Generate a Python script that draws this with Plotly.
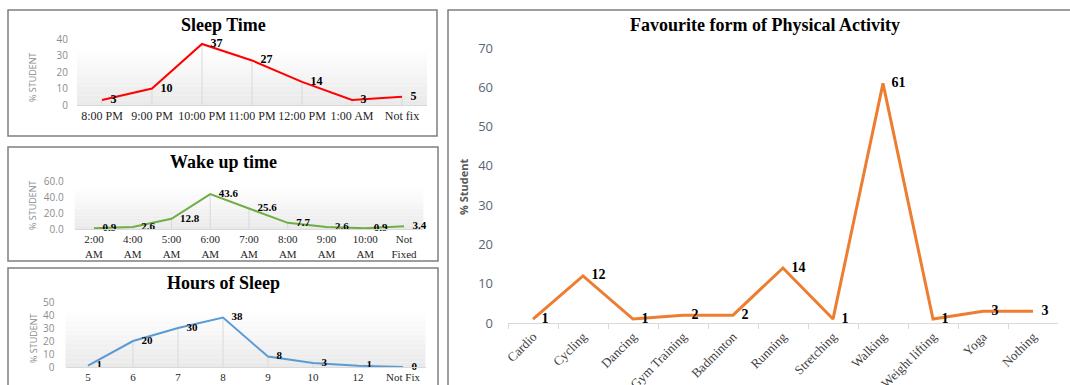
import plotly.graph_objects as go

# ---------------- data ----------------
sleep_cats = ["8:00 PM", "9:00 PM", "10:00 PM", "11:00 PM", "12:00 PM", "1:00 AM", "Not fix"]
sleep_vals = [3, 10, 37, 27, 14, 3, 5]

wake_cats = ["2:00<br>AM", "4:00<br>AM", "5:00<br>AM", "6:00<br>AM", "7:00<br>AM",
             "8:00<br>AM", "9:00<br>AM", "10:00<br>AM", "Not<br>Fixed"]
wake_vals = [0.9, 2.6, 12.8, 43.6, 25.6, 7.7, 2.6, 0.9, 3.4]

hours_cats = ["5", "6", "7", "8", "9", "10", "12", "Not Fix"]
hours_vals = [1, 20, 30, 38, 8, 3, 1, 0]

act_cats = ["Cardio", "Cycling", "Dancing", "Gym Training", "Badminton", "Running",
            "Stretching", "Walking", "Weight lifting", "Yoga", "Nothing"]
act_vals = [1, 12, 1, 2, 2, 14, 1, 61, 1, 3, 3]

# ---------------- helpers ----------------
W, H = 1070, 385


def px(x):
    return x / W


def py(y):
    return 1 - y / H


SERIF = "Liberation Serif, Times New Roman, serif"
SANS = "Open Sans, Liberation Sans, sans-serif"

fig = go.Figure()


def drops(cats, vals, xa, ya):
    fig.add_trace(go.Scatter(
        x=cats, y=vals, mode="markers", xaxis=xa, yaxis=ya,
        marker=dict(size=1, opacity=0),
        error_y=dict(type="data", symmetric=False, array=[0] * len(vals),
                     arrayminus=vals, width=0, thickness=1, color="#d9d9d9"),
        hoverinfo="skip", showlegend=False))


def line(cats, vals, texts, xa, ya, color, width, fsize):
    fig.add_trace(go.Scatter(
        x=cats, y=vals, mode="lines+markers+text", xaxis=xa, yaxis=ya,
        line=dict(color=color, width=width),
        marker=dict(size=12, opacity=0),
        text=texts, textposition="middle right",
        textfont=dict(family=SERIF, size=fsize, color="#000000", weight="bold"),
        cliponaxis=False, showlegend=False))


drops(sleep_cats, sleep_vals, "x", "y")
line(sleep_cats, sleep_vals, [str(v) for v in sleep_vals], "x", "y", "#FF0000", 2, 12)

drops(wake_cats, wake_vals, "x2", "y2")
line(wake_cats, wake_vals, [f"{v:.1f}" for v in wake_vals], "x2", "y2", "#70AD47", 2, 11)

drops(hours_cats, hours_vals, "x3", "y3")
line(hours_cats, hours_vals, [str(v) for v in hours_vals], "x3", "y3", "#5B9BD5", 2, 11)

line(act_cats, act_vals, [str(v) for v in act_vals], "x4", "y4", "#ED7D31", 3, 14)

small_tick_font = dict(family=SANS, size=10, color="#8c8c8c")
xcat_font = dict(family=SERIF, size=12, color="#262626")


def xax(dom, font, n, **kw):
    d = dict(domain=dom, type="category", range=[-0.5, n - 0.5], autorange=False,
             showgrid=False, zeroline=False,
             showline=True, linecolor="#d9d9d9", linewidth=1, ticks="",
             tickfont=font, fixedrange=True, automargin=False)
    d.update(kw)
    return d


def yax(dom, rng, dtick, anchor, standoff, font, **kw):
    d = dict(domain=dom, range=rng, autorange=False, dtick=dtick, tick0=0, showgrid=False,
             zeroline=False, showline=False, ticks="", anchor=anchor,
             ticklabelstandoff=standoff, tickfont=font, fixedrange=True,
             automargin=False)
    d.update(kw)
    return d


fig.update_layout(
    width=W, height=H,
    margin=dict(l=0, r=0, t=0, b=0, pad=0, autoexpand=False),
    paper_bgcolor="white", plot_bgcolor="white",
    showlegend=False,
    xaxis=xax([px(77), px(427)], xcat_font, len(sleep_cats), anchor="y", tickangle=0),
    yaxis=yax([py(105), py(39)], [0, 40], 10, "x", 8, small_tick_font),
    xaxis2=xax([px(74.6), px(423.4)], dict(family=SERIF, size=11, color="#262626"),
               len(wake_cats), anchor="y2", tickangle=0),
    yaxis2=yax([py(229), py(181)], [0, 60], 20, "x2", 10, small_tick_font, tickformat=".1f"),
    xaxis3=xax([px(65.5), px(425.5)], dict(family=SERIF, size=11, color="#262626"),
               len(hours_cats), anchor="y3", tickangle=0),
    yaxis3=yax([py(367), py(302)], [0, 50], 10, "x3", 10, small_tick_font),
    xaxis4=xax([px(508), px(1058)], dict(family=SERIF, size=13, color="#404040"),
               len(act_cats), anchor="y4", tickangle=-45, ticks="outside",
               tickson="boundaries", ticklen=5, tickcolor="#d9d9d9"),
    yaxis4=yax([py(323), py(48)], [0, 70], 10, "x4", 14,
               dict(family=SANS, size=13, color="#5b6573")),
)

# ---------------- gradient plot-area fills ----------------
N = 12
for xa, ya in [("x", "y"), ("x2", "y2"), ("x3", "y3")]:
    for i in range(N):
        f0 = 0.85 * i / N
        f1 = 0.85 * (i + 1) / N
        t = 1 - (i + 0.5) / N
        g = int(round(255 - (255 - 233) * t))
        fig.add_shape(type="rect", xref=f"{xa} domain", yref=f"{ya} domain",
                      x0=0, x1=1, y0=f0, y1=f1, line=dict(width=0),
                      fillcolor=f"rgb({g},{g},{g})", layer="below")

# ---------------- panel borders ----------------
for (x0, y0, x1, y1) in [(8, 10, 437, 136), (8, 147, 438, 261), (8, 268, 438, 420),
                         (448, 10, 1110, 420)]:
    fig.add_shape(type="rect", xref="paper", yref="paper",
                  x0=px(x0), x1=px(x1), y0=py(y1), y1=py(y0),
                  line=dict(color="#7f7f7f", width=1.5), fillcolor="rgba(0,0,0,0)",
                  layer="above")

# ---------------- titles ----------------
titles = [("Sleep Time", 223, 25, 18), ("Wake up time", 223, 162, 18),
          ("Hours of Sleep", 223, 283, 18),
          ("Favourite form of Physical Activity", 765, 25, 18)]
for txt, x, y, s in titles:
    fig.add_annotation(text=f"<b>{txt}</b>", xref="paper", yref="paper",
                       x=px(x), y=py(y), xanchor="center", yanchor="middle",
                       showarrow=False, font=dict(family=SERIF, size=s, color="#000000"))

for x, y in [(33, 77), (33, 205), (33, 338)]:
    fig.add_annotation(text="% STUDENT", xref="paper", yref="paper",
                       x=px(x), y=py(y), xanchor="center", yanchor="middle",
                       textangle=-90, showarrow=False,
                       font=dict(family=SANS, size=9, color="#8c8c8c"))

fig.add_annotation(text="<b>% Student</b>", xref="paper", yref="paper",
                   x=px(463), y=py(187), xanchor="center", yanchor="middle",
                   textangle=-90, showarrow=False,
                   font=dict(family=SANS, size=11, color="#595959"))

fig.write_html("out.html")
